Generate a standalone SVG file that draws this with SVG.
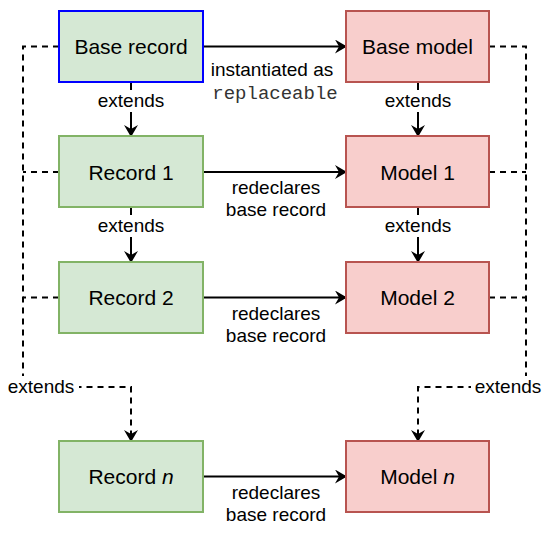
<svg xmlns="http://www.w3.org/2000/svg" width="550" height="534" viewBox="0 0 550 534">
<style>
.rec{fill:#d5e8d4;stroke:#82b366;stroke-width:2}
.mod{fill:#f8cecc;stroke:#b85450;stroke-width:2}
.t{font-family:"Liberation Sans",Arial,sans-serif;font-size:21px;fill:#000;text-anchor:middle}
.l{font-family:"Liberation Sans",Arial,sans-serif;font-size:19px;fill:#000;text-anchor:middle}
.m{font-family:"Liberation Mono","Courier New",monospace;font-size:19px;fill:#333;text-anchor:middle}
.e{fill:none;stroke:#000;stroke-width:2}
.d{fill:none;stroke:#000;stroke-width:2;stroke-dasharray:6 5}
.bg{fill:#fff}
</style>
<defs>
<marker id="arr" viewBox="0 0 12 14" refX="11" refY="7" markerWidth="12" markerHeight="14" markerUnits="userSpaceOnUse" orient="auto">
<path d="M0,0 L12,7 L0,14 L4,7 z" fill="#000"/>
</marker>
</defs>
<g id="connectors">
<!-- dashed left -->
<path class="d" d="M59,46.5 H23 V387 H131 V439"/>
<path class="d" d="M59,172 H23"/>
<path class="d" d="M59,297.5 H23"/>
<path class="e" d="M131,436 V441" marker-end="url(#arr)"/>
<!-- dashed right -->
<path class="d" d="M489,46.5 H526 V387 H418 V439"/>
<path class="d" d="M489,172 H526"/>
<path class="d" d="M489,297.5 H526"/>
<path class="e" d="M418,436 V441" marker-end="url(#arr)"/>
<!-- vertical extends -->
<path class="e" d="M131,82 V136" marker-end="url(#arr)"/>
<path class="e" d="M131,207 V262" marker-end="url(#arr)"/>
<path class="e" d="M418,82 V136" marker-end="url(#arr)"/>
<path class="e" d="M418,207 V262" marker-end="url(#arr)"/>
<!-- horizontal -->
<path class="e" d="M203,46.5 H346" marker-end="url(#arr)"/>
<path class="e" d="M203,172 H346" marker-end="url(#arr)"/>
<path class="e" d="M203,297.5 H346" marker-end="url(#arr)"/>
<path class="e" d="M203,476.5 H346" marker-end="url(#arr)"/>
<!-- labels -->
<rect class="bg" x="94" y="90" width="74" height="22"/>
<text class="l" x="131" y="107">extends</text>
<rect class="bg" x="94" y="215" width="74" height="22"/>
<text class="l" x="131" y="232">extends</text>
<rect class="bg" x="381" y="90" width="74" height="22"/>
<text class="l" x="418" y="107">extends</text>
<rect class="bg" x="381" y="215" width="74" height="22"/>
<text class="l" x="418" y="232">extends</text>
<rect class="bg" x="4" y="376" width="75" height="22"/>
<text class="l" x="41" y="393">extends</text>
<rect class="bg" x="471" y="376" width="75" height="22"/>
<text class="l" x="508" y="393">extends</text>
<text class="l" x="272" y="76">instantiated as</text>
<text class="m" x="275" y="99">replaceable</text>
<text class="l" x="276" y="194">redeclares</text>
<text class="l" x="276" y="216">base record</text>
<text class="l" x="276" y="320">redeclares</text>
<text class="l" x="276" y="342">base record</text>
<text class="l" x="276" y="499">redeclares</text>
<text class="l" x="276" y="521">base record</text>
</g>
<g id="base-record"><rect class="rec" x="59" y="11" width="144" height="71" style="stroke:#0000ff"/><text class="t" x="131" y="54">Base record</text></g>
<g id="base-model"><rect class="mod" x="346" y="11" width="143" height="71"/><text class="t" x="417.5" y="54">Base model</text></g>
<g id="record-1"><rect class="rec" x="59" y="136" width="144" height="71"/><text class="t" x="131" y="179.5">Record 1</text></g>
<g id="model-1"><rect class="mod" x="346" y="136" width="143" height="71"/><text class="t" x="417.5" y="179.5">Model 1</text></g>
<g id="record-2"><rect class="rec" x="59" y="262" width="144" height="71"/><text class="t" x="131" y="305">Record 2</text></g>
<g id="model-2"><rect class="mod" x="346" y="262" width="143" height="71"/><text class="t" x="417.5" y="305">Model 2</text></g>
<g id="record-n"><rect class="rec" x="59" y="441" width="144" height="71"/><text class="t" x="131" y="484">Record <tspan font-style="italic">n</tspan></text></g>
<g id="model-n"><rect class="mod" x="346" y="441" width="143" height="71"/><text class="t" x="417.5" y="484">Model <tspan font-style="italic">n</tspan></text></g>
</svg>
